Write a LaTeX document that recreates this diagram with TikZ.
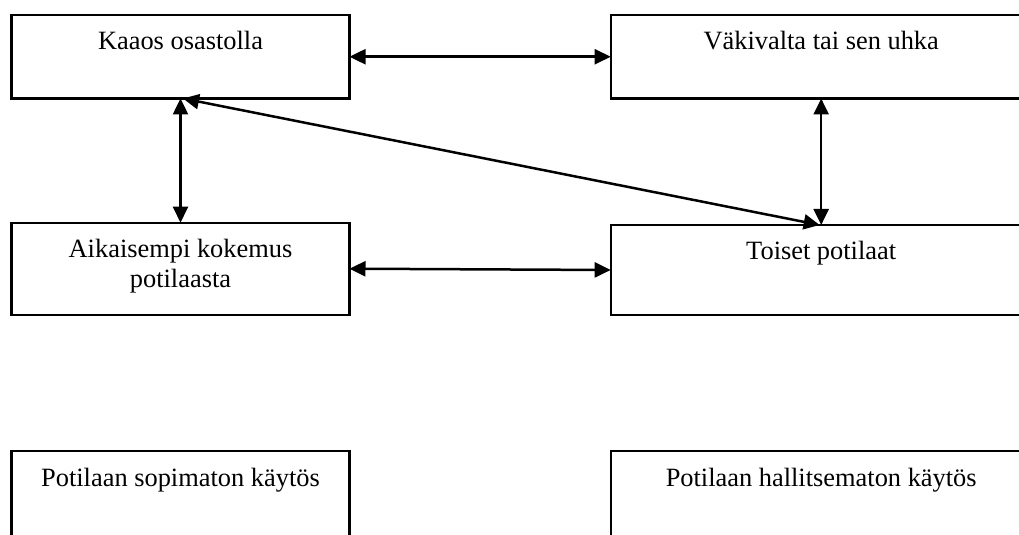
\documentclass[tikz,border=0pt]{standalone}
\usepackage{fontspec}
\setmainfont{Liberation Serif}
\usetikzlibrary{arrows.meta}
\newcommand{\boxcontent}[3]{\parbox[c][#2][t]{#1}{\centering\fontsize{13.2pt}{15pt}\selectfont\rule{0pt}{17.5pt}#3}}
\tikzset{
  box/.style={draw, line width=1.1pt, inner sep=0pt, outer sep=0pt, anchor=north west},
  arr/.style={line width=1.25pt, {Triangle[length=8pt,width=7.5pt]}-{Triangle[length=8pt,width=7.5pt]}}
}
\begin{document}
\begin{tikzpicture}[x=0.5pt,y=-0.5pt]
\useasboundingbox (0,0) rectangle (1019,535);
\clip (0,0) rectangle (1019,535);
\node[box] (tl) at (11.5,15) {\boxcontent{169pt}{41.75pt}{Kaaos osastolla}};
\node[box] (tr) at (610.7,15) {\boxcontent{210.5pt}{41.75pt}{Väkivalta tai sen uhka}};
\node[box] (ml) at (11.5,222.7) {\boxcontent{169pt}{46pt}{Aikaisempi kokemus\\potilaasta}};
\node[box] (mr) at (610.7,225) {\boxcontent{210.5pt}{45pt}{Toiset potilaat}};
\node[box] (bl) at (11.5,451) {\boxcontent{169pt}{60pt}{Potilaan sopimaton käytös}};
\node[box] (br) at (610.7,451) {\boxcontent{210.5pt}{60pt}{Potilaan hallitsematon käytös}};
\draw[arr] (tl.east) -- (tr.west);
\draw[arr] (ml.east) -- (mr.west);
\draw[arr] (tl.south) -- (ml.north);
\draw[arr] (tr.south) -- (mr.north);
\draw[arr] ([xshift=1.25pt]tl.south) -- ([xshift=-0.75pt]mr.north);
\end{tikzpicture}
\end{document}
